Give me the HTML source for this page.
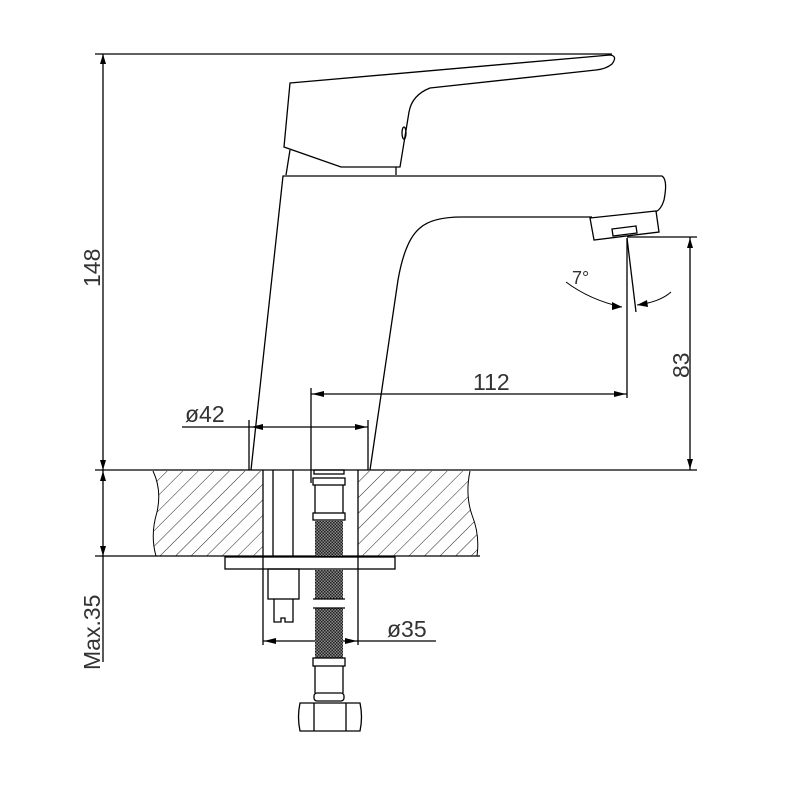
<!DOCTYPE html>
<html><head><style>html,body{margin:0;padding:0;background:#fff}svg{display:block}</style></head>
<body>
<svg width="800" height="800" viewBox="0 0 800 800" xmlns="http://www.w3.org/2000/svg">
<defs>
<pattern id="hatch" width="11" height="11" patternUnits="userSpaceOnUse" patternTransform="rotate(45)">
<line x1="0" y1="0" x2="0" y2="11" stroke="#222" stroke-width="1"/>
</pattern>
<pattern id="chk" width="3" height="3" patternUnits="userSpaceOnUse">
<rect width="3" height="3" fill="#888"/><rect width="1.5" height="1.5" fill="#222"/><rect x="1.5" y="1.5" width="1.5" height="1.5" fill="#222"/>
</pattern>
</defs>
<g fill="none" stroke="#000" stroke-width="1.3">
<path d="M153,471 Q162,490 157,512 Q150,535 156,556 L263,556 L263,471 Z" fill="url(#hatch)" stroke="none"/>
<path d="M358,471 L470,471 Q465,495 472,515 Q480,535 477,556 L358,556 Z" fill="url(#hatch)" stroke="none"/>
<path d="M153,471 Q162,490 157,512 Q150,535 156,556" stroke-width="1"/>
<path d="M470,471 Q465,495 472,515 Q480,535 477,556" stroke-width="1"/>
<line x1="95" y1="54" x2="612" y2="54"/>
<line x1="95" y1="470" x2="697" y2="470"/>
<line x1="95" y1="556" x2="480" y2="556"/>
<line x1="627" y1="237" x2="697" y2="237"/>
<line x1="103" y1="54" x2="103" y2="470"/>
<path d="M103,54 l-3,10 h6z" fill="#000" stroke="none"/>
<line x1="103" y1="470" x2="103" y2="662"/>
<path d="M103,471 l-3,10 h6z M103,556 l-3,-10 h6z M103,470 l-3,-10 h6z" fill="#000" stroke="none"/>
<line x1="690" y1="237" x2="690" y2="470"/>
<path d="M690,238 l-3,10 h6z M690,469 l-3,-10 h6z" fill="#000" stroke="none"/>
<path d="M290,83 L610,55 Q618,56 612,64 Q606,69 596,70 L430,88 Q412,95 409,112 L400,167 L341,167 L284,147 Z" fill="#fff"/>
<ellipse cx="404" cy="133" rx="2" ry="6"/>
<line x1="290" y1="150" x2="286" y2="175"/>
<line x1="396" y1="167" x2="396" y2="175"/>
<path d="M251,470 L283,176 L662,176 Q668,180 664,200 Q661,210 655,212"/>
<path d="M370,470 L398,280 Q405,240 420,228 Q432,217 462,217 L592,217"/>
<path d="M590,218 L656,211 L659,232 L594,240 Z" fill="#fff"/>
<path d="M612,229 L636,226 L637,233 L613,236 Z"/>
<line x1="627" y1="238" x2="627" y2="398"/>
<line x1="627" y1="238" x2="636" y2="312"/>
<path d="M566,282 Q590,300 622,307" stroke-width="1"/>
<path d="M622,307 l-10,-5 l0,8z" fill="#000" stroke="none"/>
<path d="M671,292 Q660,302 637,305" stroke-width="1"/>
<path d="M637,305 l10,-5 l1,7z" fill="#000" stroke="none"/>
<line x1="311" y1="388" x2="311" y2="483"/>
<line x1="311" y1="394" x2="627" y2="394"/>
<path d="M312,394 l12,-3 v6z M626,394 l-12,-3 v6z" fill="#000" stroke="none"/>
<line x1="249" y1="420" x2="249" y2="470"/>
<line x1="368" y1="420" x2="368" y2="470"/>
<line x1="182" y1="427" x2="368" y2="427"/>
<path d="M251,427 l12,-3 v6z M367,427 l-12,-3 v6z" fill="#000" stroke="none"/>
<line x1="263" y1="470" x2="263" y2="645"/>
<line x1="358" y1="470" x2="358" y2="645"/>
<line x1="263" y1="641" x2="436" y2="641"/>
<path d="M264,641 l12,-3 v6z M357,641 l-12,-3 v6z" fill="#000" stroke="none"/>
<rect x="225" y="557" width="170" height="12" fill="#fff"/>
<line x1="263" y1="557" x2="263" y2="569"/><line x1="358" y1="557" x2="358" y2="569"/>
<line x1="273" y1="470" x2="273" y2="556"/>
<line x1="293" y1="470" x2="293" y2="556"/>
<rect x="268" y="569" width="31" height="30"/>
<path d="M274,599 L274,622 L281,622 L281,618 L285,618 L285,622 L293,622 L293,599"/>
<rect x="314" y="470" width="30" height="4"/>
<rect x="313" y="478" width="32" height="7"/>
<line x1="315" y1="485" x2="315" y2="513"/><line x1="343" y1="485" x2="343" y2="513"/>
<rect x="313" y="513" width="32" height="7"/>
<rect x="315" y="520" width="28" height="36" fill="url(#chk)" stroke="none"/>
<rect x="315" y="570" width="28" height="29" fill="url(#chk)" stroke="none"/>
<rect x="315" y="608" width="28" height="50" fill="url(#chk)" stroke="none"/>
<line x1="313" y1="608" x2="345" y2="608"/>
<line x1="313" y1="599" x2="345" y2="599"/>
<rect x="313" y="658" width="32" height="8"/>
<line x1="315" y1="666" x2="315" y2="693"/><line x1="343" y1="666" x2="343" y2="693"/>
<rect x="314" y="693" width="30" height="8" rx="3"/>
<path d="M300,703 L360,703 Q363,717 360,731 L300,731 Q297,717 300,703 Z"/>
<line x1="314" y1="703" x2="314" y2="731"/><line x1="346" y1="703" x2="346" y2="731"/>
</g>
<g font-family="Liberation Sans, sans-serif" font-size="23" fill="#333">
<text x="0" y="0" transform="translate(100,287) rotate(-90)">148</text>
<text x="0" y="0" transform="translate(689,378) rotate(-90)">83</text>
<text x="0" y="0" transform="translate(100,670) rotate(-90)">Max.35</text>
<text x="473" y="390">112</text>
<text x="185" y="422">ø42</text>
<text x="387" y="637">ø35</text>
<text x="572" y="284" font-size="18">7°</text>
</g>
</svg>
</body></html>
